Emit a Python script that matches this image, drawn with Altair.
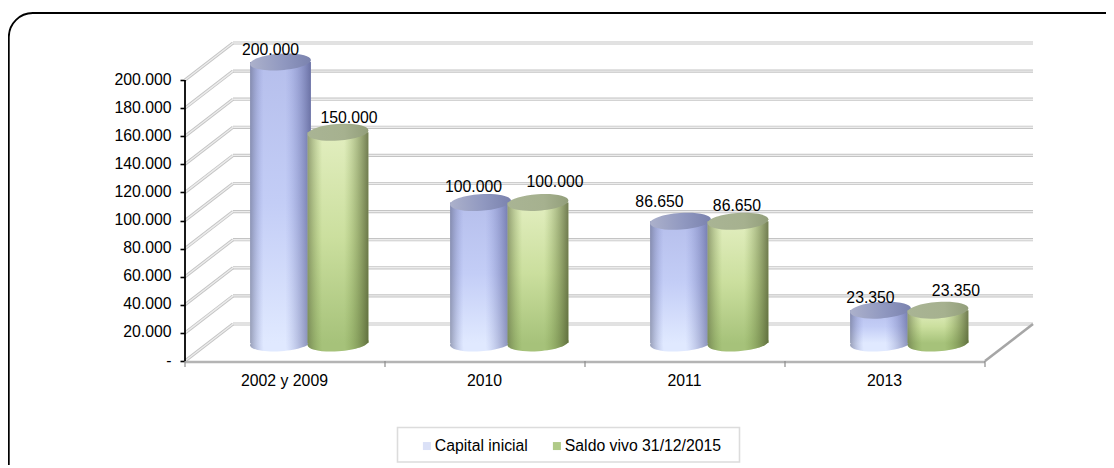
import json
import altair as alt
import pandas as pd

categories = ["2002 y 2009", "2010", "2011", "2013"]
capital_inicial = [200000, 100000, 86650, 23350]
saldo_vivo = [150000, 100000, 86650, 23350]
series_names = ["Capital inicial", "Saldo vivo 31/12/2015"]
y_ticks = [0, 20000, 40000, 60000, 80000, 100000, 120000, 140000, 160000, 180000, 200000]

FONT = "Liberation Sans"
FS = 15.8
# 3D layout in data units
DEPTH_X = 0.24
DEPTH_Y = 26335
BASE = 12800
HALF_W = 0.152
N = len(categories)
W, H = 848, 318
xs = alt.Scale(domain=[0, N + DEPTH_X], nice=False, zero=False)
ys = alt.Scale(domain=[0, 200000 + DEPTH_Y], nice=False, zero=False)

axis_y = alt.Axis(values=y_ticks, domain=False, grid=False, tickColor="black", tickWidth=1.6, tickSize=5,
                  labelFont=FONT, labelFontSize=FS, labelColor="black", labelPadding=9, title=None,
                  labelOffset=-1,
                  labelExpr="datum.value == 0 ? '-' : replace(format(datum.value, ','), ',', '.')")
axis_x = alt.Axis(values=[i + 0.5 for i in range(N)], domain=False, grid=False, tickSize=0,
                  labelFont=FONT, labelFontSize=FS, labelColor="black", labelPadding=12, title=None,
                  labelOffset=-1,
                  labelExpr=json.dumps(categories) + "[datum.value - 0.5]")


def X(f="x"):
    return alt.X(f"{f}:Q", scale=xs, axis=axis_x, title=None)


def Y(f="y"):
    return alt.Y(f"{f}:Q", scale=ys, axis=axis_y, title=None)


def grad(stops, horizontal=True):
    n = [{"color": c, "offset": o} for o, c in stops]
    return {"gradient": "linear", "stops": n, "x1": 0, "y1": 0,
            "x2": 1 if horizontal else 0, "y2": 0 if horizontal else 1}


ELLIPSE = "M-1,0A1,0.27,0,1,1,1,0A1,0.27,0,1,1,-1,0Z"
ELL_SIZE = 61 ** 2
TILT = 356

# ---------- walls
wall = pd.DataFrame({"v": y_ticks})
wall["x0"] = 0.0
wall["x1"] = DEPTH_X
wall["x2"] = N + DEPTH_X
wall["yb"] = wall["v"] + DEPTH_Y

GRID = "#c4c4c4"
GRID2 = "#ececec"
back = alt.Chart(wall).mark_rule(stroke=GRID, strokeWidth=3.2).encode(
    x=X("x1"), x2="x2:Q", y=Y("yb"), y2="yb:Q")
back2 = alt.Chart(wall).mark_rule(stroke=GRID2, strokeWidth=1.4).encode(
    x=X("x1"), x2="x2:Q", y=Y("yb"), y2="yb:Q")
side = alt.Chart(wall).mark_rule(stroke=GRID, strokeWidth=3.2).encode(
    x=X("x0"), x2="x1:Q", y=Y("v"), y2="yb:Q")
side2 = alt.Chart(wall).mark_rule(stroke=GRID2, strokeWidth=1.4).encode(
    x=X("x0"), x2="x1:Q", y=Y("v"), y2="yb:Q")

floor_df = pd.DataFrame({"x": [float(N)], "x2": [N + DEPTH_X], "y": [0], "y2": [DEPTH_Y]})
floor_edge = alt.Chart(floor_df).mark_rule(stroke="#a6a6a6", strokeWidth=2.6).encode(
    x=X("x"), x2="x2:Q", y=Y("y"), y2="y2:Q")
front_df = pd.DataFrame({"x": [0.0], "x2": [float(N)], "y": [0]})
front = alt.Chart(front_df).mark_rule(stroke="#b4b4b4", strokeWidth=2.6, yOffset=1).encode(
    x=X("x"), x2="x2:Q", y=Y("y"))
tick_df = pd.DataFrame({"x": [float(i) for i in range(N + 1)], "y": [0] * (N + 1)})
front_ticks = alt.Chart(tick_df).mark_rule(stroke="#8c8c8c", strokeWidth=1.2).encode(
    x=X("x"), y=Y("y"), y2=alt.value(H + 6))
y_line_df = pd.DataFrame({"x": [0.0], "y": [y_ticks[0]], "y2": [y_ticks[-1]]})
y_line = alt.Chart(y_line_df).mark_rule(stroke="black", strokeWidth=1.8).encode(
    x=X("x"), y=Y("y"), y2="y2:Q")


# ---------- cylinders
def cylinder_layers(values, offset, pal):
    d = pd.DataFrame({"c": range(N), "v": values})
    d["cx"] = d["c"] + offset
    d["l"] = d["cx"] - HALF_W
    d["r"] = d["cx"] + HALF_W
    d["base"] = BASE
    d["top"] = BASE + d["v"]
    base = alt.Chart(d)
    sh = grad([(0, pal["edgeL"]), (pal["ls"], pal["none"]), (pal["rs"], pal["none"]), (1, pal["edgeR"])])
    common = dict(shape=ELLIPSE, size=ELL_SIZE, filled=True, opacity=1, strokeWidth=0, angle=TILT)
    bottom = base.mark_point(fill=pal["bottom"], **common).encode(x=X("cx"), y=Y("base"))
    bottom_sh = base.mark_point(fill=sh, **common).encode(x=X("cx"), y=Y("base"))
    body = base.mark_rect(fill=grad([(0, pal["top"]), (0.5, pal["mid"]), (1, pal["bottom"])], False)).encode(
        x=X("l"), x2="r:Q", y=Y("base"), y2="top:Q")
    body_sh = base.mark_rect(fill=sh).encode(x=X("l"), x2="r:Q", y=Y("base"), y2="top:Q")
    cap = base.mark_point(fill=grad(pal["cap"]), **common).encode(x=X("cx"), y=Y("top"))
    return [bottom, bottom_sh, body, body_sh, cap]


blue = {"edgeL": "rgba(80,85,110,0.5)", "edgeR": "rgba(55,60,115,0.6)", "none": "rgba(120,130,200,0)",
        "ls": 0.22, "rs": 0.58,
        "top": "#b6bfec", "mid": "#c3cdf6", "bottom": "#e0e9ff",
        "cap": [(0, "#acb1cb"), (0.55, "#9098c0"), (1, "#7a82ae")]}
green = {"edgeL": "rgba(85,95,60,0.55)", "edgeR": "rgba(70,80,40,0.72)", "none": "rgba(120,150,70,0)",
         "ls": 0.24, "rs": 0.6,
         "top": "#e2eebf", "mid": "#cbdf9e", "bottom": "#a6c27a",
         "cap": [(0, "#a9b494"), (0.6, "#a6b18f"), (1, "#929e7a")]}

cyl = cylinder_layers(capital_inicial, 0.4775, blue) + cylinder_layers(saldo_vivo, 0.765, green)


# ---------- value labels (each nudged by hand like the original)
def label(value, cx, dx, dy):
    d = pd.DataFrame({"x": [cx], "y": [BASE + value], "t": [f"{value:,}".replace(",", ".")]})
    return alt.Chart(d).mark_text(font=FONT, fontSize=FS, color="black", dx=dx, dy=dy).encode(
        x=X("x"), y=Y("y"), text="t:N")


nudges = [[(-10, -12), (11, -14)], [(-7, -16), (17, -21)], [(-21, -19), (-1, -15)], [(-10, -12), (18, -19)]]
labels = []
for i in range(N):
    labels.append(label(capital_inicial[i], i + 0.4775, *nudges[i][0]))
    labels.append(label(saldo_vivo[i], i + 0.765, *nudges[i][1]))

# ---------- legend
leg_df = pd.DataFrame({"x": [0.0, 0.0], "y": [0, 0], "s": series_names})
legend = alt.Legend(orient="none", legendX=230, legendY=395, direction="horizontal", title=None,
                    labelFont=FONT, labelFontSize=FS, labelColor="black", symbolType="square",
                    symbolSize=64, symbolOpacity=1, symbolStrokeWidth=0, padding=0,
                    columnPadding=17, labelOffset=0, symbolOffset=4)
leg_layer = alt.Chart(leg_df).mark_point(opacity=0, filled=True).encode(
    x=X("x"), y=Y("y"),
    color=alt.Color("s:N", scale=alt.Scale(domain=series_names, range=["#dbe1f7", "#b0ca88"]), legend=legend))

leg_box = alt.Chart(pd.DataFrame({"a": [0]})).mark_rect(fill="white", stroke="#dcdcdc", strokeWidth=1.6).encode(
    x=alt.value(212.5), x2=alt.value(554.5), y=alt.value(384.5), y2=alt.value(419))

border = alt.Chart(pd.DataFrame({"a": [0]})).mark_rect(
    fill="transparent", stroke="black", strokeWidth=1.8, cornerRadius=24).encode(
    x=alt.value(-176.2), x2=alt.value(945), y=alt.value(-30), y2=alt.value(450))

chart = alt.layer(back, back2, side, side2, floor_edge, front, front_ticks, y_line, *cyl, *labels,
                  leg_box, leg_layer, border).properties(
    width=W, height=H,
    autosize=alt.AutoSizeParams(type="none"),
    padding={"left": 177, "top": 35, "right": 73, "bottom": 104},
    background="white",
).configure_view(stroke=None)

chart.save("out.html", embed_options={"renderer": "svg", "actions": False})
